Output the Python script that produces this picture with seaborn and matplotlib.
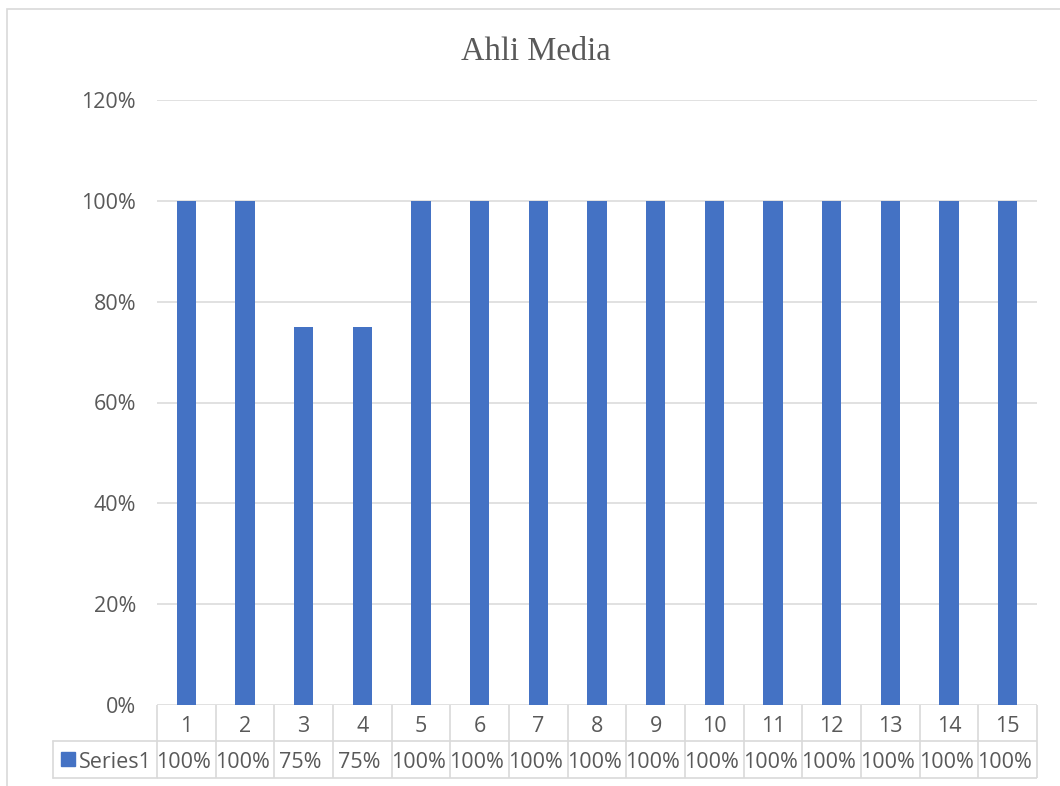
import matplotlib
matplotlib.use('Agg')
import pandas as pd
import seaborn as sns
import matplotlib.pyplot as plt
from matplotlib.patches import Rectangle
from matplotlib.transforms import blended_transform_factory

# data
categories = ['1', '2', '3', '4', '5', '6', '7', '8', '9', '10', '11', '12', '13', '14', '15']
values = [1.00, 1.00, 0.75, 0.75, 1.00, 1.00, 1.00, 1.00, 1.00, 1.00, 1.00, 1.00, 1.00, 1.00, 1.00]
value_labels = ['100%', '100%', '75%', '75%', '100%', '100%', '100%', '100%',
                '100%', '100%', '100%', '100%', '100%', '100%', '100%']
y_ticks = [0.0, 0.2, 0.4, 0.6, 0.8, 1.0, 1.2]
y_tick_labels = ['0%', '20%', '40%', '60%', '80%', '100%', '120%']
series_name = 'Series1'
chart_title = 'Ahli Media'

W, H = 1060, 786
bar_color = '#4472C4'
grid_color = '#D9D9D9'
text_color = '#595959'
fs = 15.5

sns.set_theme(style='white')
plt.rcParams['font.family'] = ['Open Sans', 'DejaVu Sans']

fig = plt.figure(figsize=(W / 100, H / 100), dpi=100)
fig.patch.set_facecolor('white')


def fy(px):
    # pixel row -> figure fraction
    return 1 - px / H


# outer chart frame (runs off the picture on the right and bottom)
fig.patches.append(Rectangle((7 / W, fy(H + 20)), 1.2, (H + 20 - 9) / H,
                             transform=fig.transFigure, fill=False,
                             edgecolor=grid_color, linewidth=1.2))

ax = fig.add_axes([157 / W, fy(705), 880 / W, 605 / H])
df = pd.DataFrame({'cat': categories, 'val': values})
sns.barplot(data=df, x='cat', y='val', color=bar_color, width=0.325,
            saturation=1, linewidth=0, ax=ax, zorder=3)

ax.set_xlim(-0.5, len(categories) - 0.5)
ax.set_ylim(0, 1.2)
ax.set_yticks(y_ticks)
ax.set_yticklabels(y_tick_labels, fontsize=fs, color=text_color)
ax.tick_params(axis='y', length=0, pad=15)
ax.set_xticks([])
ax.set_xlabel('')
ax.set_ylabel('')
for s in ax.spines.values():
    s.set_visible(False)
for t in y_ticks:
    ax.axhline(t, color=grid_color, linewidth=1.1, zorder=1)

fig.text(536 / W, fy(60), chart_title, ha='center', va='baseline',
         fontsize=23.5, color=text_color, family='Liberation Serif')

# data table below the axis
trans = blended_transform_factory(ax.transData, fig.transFigure)
bounds = [i - 0.5 for i in range(len(categories) + 1)]
ax.vlines(bounds, fy(778), fy(705), transform=trans, color=grid_color,
          linewidth=1.2, clip_on=False)
ax.hlines([fy(741), fy(778)], -0.5, len(categories) - 0.5, transform=trans,
          color=grid_color, linewidth=1.2, clip_on=False)
fig.add_artist(plt.Line2D([53 / W, 157 / W], [fy(741), fy(741)], color=grid_color, linewidth=1.2))
fig.add_artist(plt.Line2D([53 / W, 157 / W], [fy(778), fy(778)], color=grid_color, linewidth=1.2))
fig.add_artist(plt.Line2D([53 / W, 53 / W], [fy(741), fy(778)], color=grid_color, linewidth=1.2))

for i, (c, v) in enumerate(zip(categories, value_labels)):
    ax.text(i, fy(727), c, transform=trans, ha='center', va='center',
            fontsize=fs, color=text_color, clip_on=False)
    ax.text(i - 0.05, fy(763), v, transform=trans, ha='center', va='center',
            fontsize=fs, color=text_color, clip_on=False)

fig.patches.append(Rectangle((61 / W, fy(766)), 14 / W, 14 / H,
                             transform=fig.transFigure, color=bar_color))
fig.text(79 / W, fy(763), series_name, ha='left', va='center',
         fontsize=fs, color=text_color)

fig.savefig('out.png', dpi=100, facecolor='white')
